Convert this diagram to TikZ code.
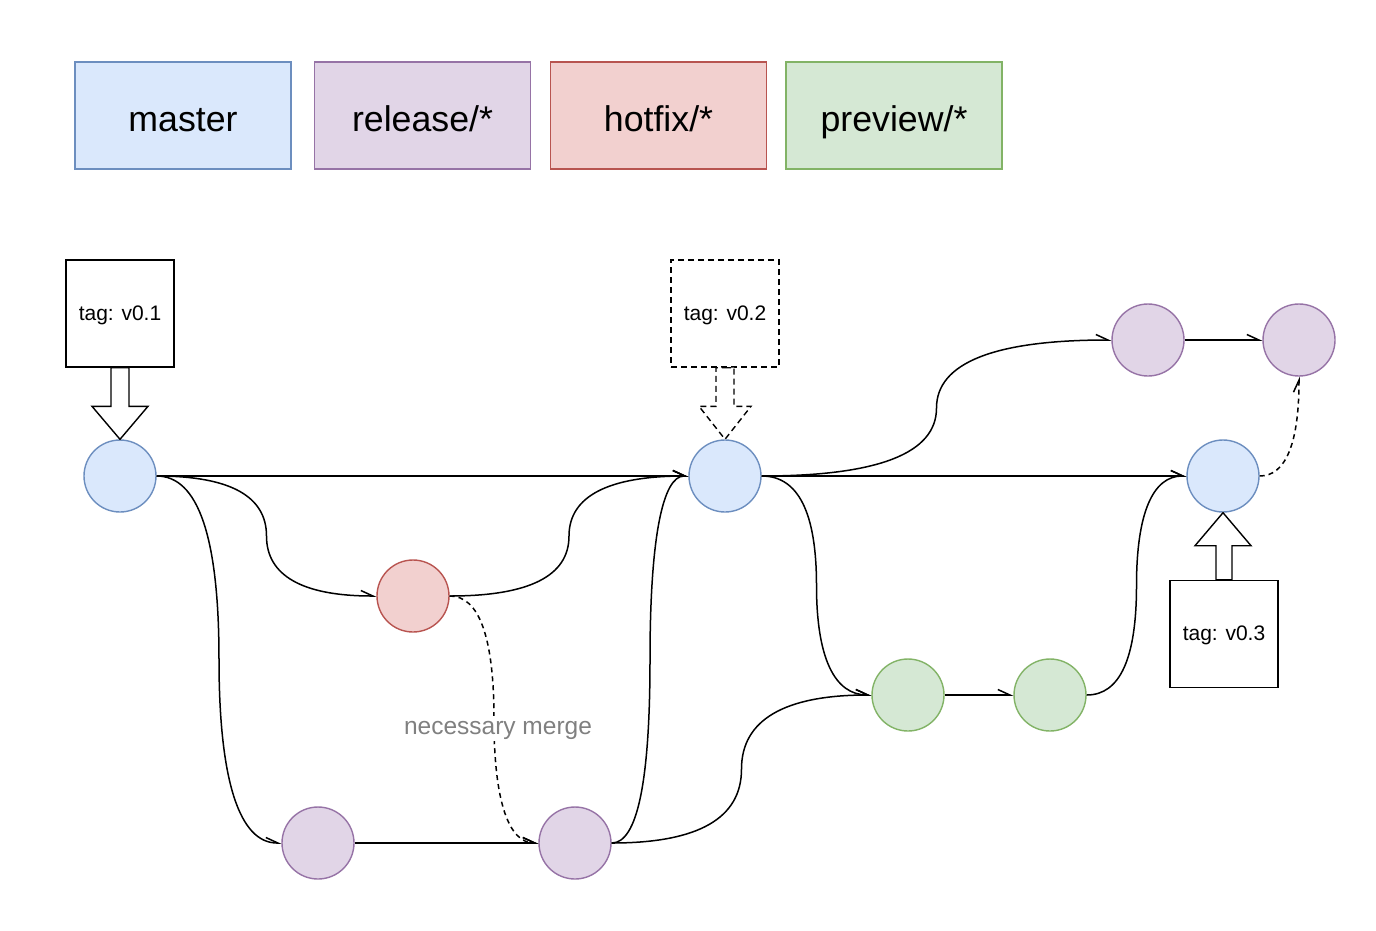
\documentclass[tikz,border=0pt]{standalone}
\usepackage{fontspec}
\setmainfont{Liberation Sans}
\usetikzlibrary{calc,arrows.meta}
\definecolor{masterfill}{HTML}{DAE8FC}
\definecolor{masterline}{HTML}{6C8EBF}
\definecolor{releasefill}{HTML}{E1D5E7}
\definecolor{releaseline}{HTML}{9673A6}
\definecolor{hotfixfill}{HTML}{F2D0CF}
\definecolor{hotfixline}{HTML}{B85450}
\definecolor{previewfill}{HTML}{D5E8D4}
\definecolor{previewline}{HTML}{82B366}
\tikzset{
	commit/.style 2 args={circle,minimum size=72pt,inner sep=0pt,line width=1.4pt,draw=#1,fill=#2},
	legend/.style 2 args={rectangle,minimum width=216pt,minimum height=107pt,line width=1.4pt,draw=#1,fill=#2,text height=36pt,text depth=5pt,font=\fontsize{35.7}{40}\selectfont},
	tagbox/.style={rectangle,draw,line width=1.4pt,minimum width=108pt,minimum height=107pt,text height=16pt,text depth=3pt,font=\fontsize{21}{25}\selectfont},
	tagarrow/.style={draw,fill=white,line width=1.4pt,line join=miter},
	longdash/.style={dash pattern=on 6pt off 4pt},
	flow/.style={line width=1.5pt,-{Straight Barb[harpoon,length=12pt,width=11pt]}},
	merge/.style={flow,dash pattern=on 5pt off 4pt},
	sbend/.style={to path={let \p1=(\tikztostart),\p2=(\tikztotarget),\n1={(\x2-\x1)/2},\n2={(\y2-\y1)/2} in
		.. controls ({\x1+2*\n1/3},\y1) and ({\x1+\n1},{\y1+\n2/3}) .. ({\x1+\n1},{\y1+\n2})
		.. controls ({\x1+\n1},{\y2-\n2/3}) and ({\x2-2*\n1/3},\y2) .. (\tikztotarget) \tikztonodes}}
}
\begin{document}
\begin{tikzpicture}[x=1pt,y=-1pt]
							\useasboundingbox (0,0) rectangle (1376,930);
							% branches
							\node [legend={masterline}{masterfill}] (master) at (183,115.5) {master};
							\node [legend={releaseline}{releasefill}] (release) at (422.5,115.5) {release/*};
							\node [legend={hotfixline}{hotfixfill}] (hotfix) at (658.5,115.5) {hotfix/*};
							\node [legend={previewline}{previewfill}] (preview) at (894,115.5) {preview/*};

							% commits
							\node [commit={masterline}{masterfill}] (M1) at (120,476) {};
							\node [commit={masterline}{masterfill}] (M2) at (725,476) {};
							\node [commit={masterline}{masterfill}] (M3) at (1223,476) {};
							\node [commit={hotfixline}{hotfixfill}] (H1) at (413,596) {};
							\node [commit={releaseline}{releasefill}] (R1) at (318,843) {};
							\node [commit={releaseline}{releasefill}] (R2) at (575,843) {};
							\node [commit={releaseline}{releasefill}] (R3) at (1148,340) {};
							\node [commit={releaseline}{releasefill}] (R4) at (1299,340) {};
							\node [commit={previewline}{previewfill}] (P1) at (908,695) {};
							\node [commit={previewline}{previewfill}] (P2) at (1050,695) {};

							% tags
							\node [tagbox] (T1) at (120,313.5) {tag: v0.1};
							\node [tagbox,longdash] (T2) at (725,313.5) {tag: v0.2};
							\node [tagbox] (T3) at (1224,634) {tag: v0.3};
							\draw [tagarrow] (T1.south) -- ++(9,0) |- ($(M1.north)+(28,-33)$) -- (M1.north) -- ++(-28,-33) -| ($(T1.south)+(-9,0)$) -- cycle;
							\draw [tagarrow,longdash] (T2.south) -- ++(9,0) |- ($(M2.north)+(26,-33)$) -- (M2.north) -- ++(-26,-33) -| ($(T2.south)+(-9,0)$) -- cycle;
							\draw [tagarrow] (T3.north) -- ++(8,0) |- ($(M3.south)+(28,33)$) -- (M3.south) -- ++(-28,33) -| ($(T3.north)+(-8,0)$) -- cycle;

							% history
							\draw [flow] (M1.east) -- (M2.west);
							\draw [flow] (M1.east) to [sbend] (H1.west);
							\draw [flow] (M1.east) to [sbend] (R1.west);
							\draw [flow] (H1.east) to [sbend] (M2.west);
							\draw [merge] (H1.east) to [sbend] (R2.west);
							\draw [flow] (R1.east) -- (R2.west);
							\draw [flow] (R2.east) to [sbend] (M2.west);
							\draw [flow] (R2.east) to [sbend] (P1.west);
							\draw [flow] (M2.east) to [sbend] (P1.west);
							\draw [flow] (M2.east) -- (M3.west);
							\draw [flow] (M2.east) to [sbend] (R3.west);
							\draw [flow] (P1.east) -- (P2.west);
							\draw [flow] (P2.east) to [sbend] (M3.west);
							\draw [flow] (R3.east) -- (R4.west);
							\draw [merge] (M3.east) .. controls ($(M3.east)!2/3!(R4.south |- M3.east)$) and ($(R4.south)!2/3!(R4.south |- M3.east)$) .. (R4.south);
							\node [fill=white,inner sep=1pt,text=gray,text height=18pt,text depth=5pt,font=\fontsize{24.5}{28}\selectfont] (note) at (498,728) {necessary merge};
						\end{tikzpicture}
\end{document}
